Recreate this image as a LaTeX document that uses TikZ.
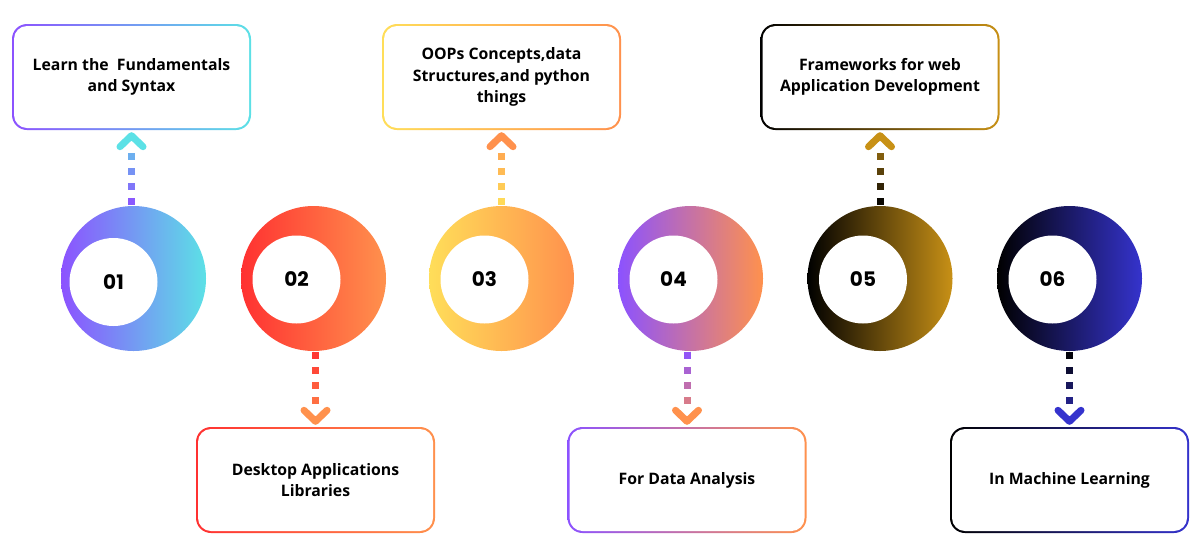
\documentclass[tikz,border=0pt]{standalone}
\usepackage{fontspec}
\newfontfamily\boxfont{Open Sans}
\newfontfamily\numfont{Poppins}
\usetikzlibrary{calc}
\definecolor{cpurple}{HTML}{8C52FF}
\definecolor{ccyan}{HTML}{5CE1E6}
\definecolor{cred}{HTML}{FF3131}
\definecolor{corange}{HTML}{FF914D}
\definecolor{cyellow}{HTML}{FFDE59}
\definecolor{cgold}{HTML}{C89116}
\definecolor{cblue}{HTML}{3533CD}
% dashed connector whose colour runs from #3 to #4
\newcommand{\gradarrow}[4]{%
  \coordinate (as) at (#1);
  \coordinate (ae) at (#2);
  \foreach \k in {0,1,2,3} {
    \pgfmathsetmacro{\dd}{4.5+15*\k}
    \pgfmathtruncatemacro{\pp}{100*\dd/76}
    \fill[#4!\pp!#3] ($(as)!\dd pt!(ae)$) +(-3.5pt,-3.5pt) rectangle +(3.5pt,3.5pt);
  }
  \coordinate (atip) at ($(ae)!5.5pt!(as)$);
  \coordinate (aback) at ($(ae)!16.5pt!(as)$);
  \draw[#4, line width=7pt, line cap=round, line join=round]
    ([xshift=-11.5pt]aback) -- (atip) -- ([xshift=11.5pt]aback);
}
\begin{document}
\begin{tikzpicture}[x=1pt,y=-1pt,
  ring/.style={circle, minimum size=145pt, inner sep=0pt},
  hole/.style={circle, fill=white, minimum size=88pt, inner sep=0pt,
    font=\numfont\bfseries\fontsize{20}{20}\selectfont},
  card/.style={rectangle, rounded corners=15pt, minimum width=239pt, minimum height=106pt,
    align=center, font=\boxfont\bfseries\fontsize{15.8}{21.5}\selectfont,
    path picture={\fill[white, rounded corners=13pt]
      ([shift={(2pt,-2pt)}]path picture bounding box.north west) rectangle
      ([shift={(-2pt,2pt)}]path picture bounding box.south east);}}]
\useasboundingbox (0,0) rectangle (1200,550);
\fill[white] (0,0) rectangle (1200,550);
% circles
\node[ring, left color=cpurple, right color=ccyan] (c1) at (133.5,278.5) {};
\node[ring, left color=cred, right color=corange] (c2) at (313.5,278.5) {};
\node[ring, left color=cyellow, right color=corange] (c3) at (501.5,278.5) {};
\node[ring, left color=cpurple, right color=corange] (c4) at (690.5,278.5) {};
\node[ring, left color=black, right color=cgold] (c5) at (880,278.5) {};
\node[ring, left color=black, right color=cblue] (c6) at (1069.5,278.5) {};
\node[hole] (n1) at ([shift={(-20pt,-3.5pt)}]c1.center) {01};
\node[hole] (n2) at ([shift={(-17pt,-1pt)}]c2.center) {02};
\node[hole] (n3) at ([shift={(-17pt,-1pt)}]c3.center) {03};
\node[hole] (n4) at ([shift={(-17pt,-1pt)}]c4.center) {04};
\node[hole] (n5) at ([shift={(-17pt,-1pt)}]c5.center) {05};
\node[hole] (n6) at ([shift={(-17pt,-1pt)}]c6.center) {06};
% boxes
\node[card, left color=cpurple, right color=ccyan] (b1) at (131.5,77) {Learn the \ Fundamentals\\and Syntax};
\node[card, left color=cred, right color=corange] (b2) at (315.5,480) {Desktop Applications\\Libraries};
\node[card, left color=cyellow, right color=corange] (b3) at (501.5,77) {OOPs Concepts,data\\Structures,and python\\things};
\node[card, left color=cpurple, right color=corange] (b4) at (687,480) {For Data Analysis};
\node[card, left color=black, right color=cgold] (b5) at (880,77) {Frameworks for web\\Application Development};
\node[card, left color=black, right color=cblue] (b6) at (1069.5,480) {In Machine Learning};
% connectors
\gradarrow{b1.south |- c1.north}{b1.south}{cpurple}{ccyan}
\gradarrow{b2.north |- c2.south}{b2.north}{cred}{corange}
\gradarrow{b3.south |- c3.north}{b3.south}{cyellow}{corange}
\gradarrow{b4.north |- c4.south}{b4.north}{cpurple}{corange}
\gradarrow{b5.south |- c5.north}{b5.south}{black}{cgold}
\gradarrow{b6.north |- c6.south}{b6.north}{black}{cblue}
\end{tikzpicture}
\end{document}
